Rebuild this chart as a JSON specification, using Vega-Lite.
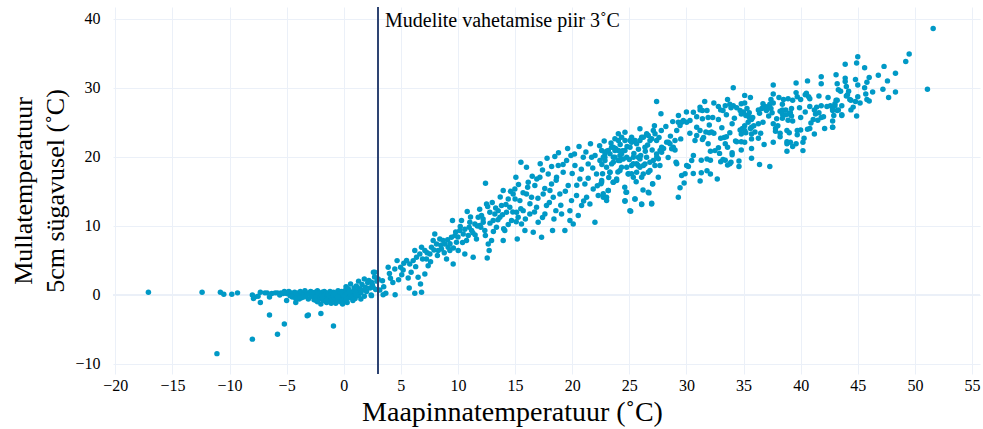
{
  "$schema": "https://vega.github.io/schema/vega-lite/v6.json",
  "width": 867,
  "height": 367,
  "autosize": "none",
  "padding": {"left": 113, "top": 7, "right": 3, "bottom": 55},
  "background": "white",
  "config": {
    "view": {"stroke": null},
    "font": "Liberation Serif",
    "style": {
      "guide-label": {"font": "Liberation Serif", "fontSize": 16, "fill": "#000000"},
      "guide-title": {"font": "Liberation Serif", "fontWeight": "normal", "fill": "#000000"}
    },
    "axis": {
      "domain": false,
      "ticks": false,
      "grid": true,
      "gridColor": "#EBF0F8",
      "gridWidth": 1,
      "labelFont": "Liberation Serif",
      "labelFontSize": 16,
      "labelColor": "#000000",
      "labelFlush": false,
      "titleFont": "Liberation Serif",
      "titleFontWeight": "normal",
      "titleColor": "#000000"
    }
  },
  "data": {"values": [
    {"x":-17.1,"y":0.4},{"x":-12.4,"y":0.4},{"x":-10.8,"y":0.4},{"x":-10.5,"y":0.1},{"x":-9.8,"y":0.1},{"x":-9.3,"y":0.3},{"x":-8.0,"y":0.0},{"x":-7.8,"y":-0.3},{"x":-7.5,"y":-0.2},{"x":-7.3,"y":0.4},{"x":-6.9,"y":0.3},{"x":-7.3,"y":-1.1},{"x":-6.5,"y":-0.3},{"x":-6.3,"y":0.2},{"x":-6.0,"y":0.3},{"x":-5.8,"y":0.3},{"x":-5.5,"y":0.3},{"x":-5.2,"y":0.5},{"x":-6.5,"y":-2.9},{"x":-5.8,"y":-5.7},{"x":-5.2,"y":-4.2},{"x":-8.0,"y":-6.4},{"x":-11.1,"y":-8.5},{"x":-5.0,"y":-0.8},{"x":-4.7,"y":-0.1},{"x":-4.4,"y":0.1},{"x":-4.1,"y":-0.3},{"x":-3.9,"y":0.0},{"x":-3.6,"y":-0.2},{"x":-4.2,"y":-1.1},{"x":-3.2,"y":-3.0},{"x":-3.1,"y":-2.9},{"x":-2.0,"y":-2.7},{"x":-0.9,"y":-4.5},
    {"x":-7.9,"y":-0.5},{"x":-6.7,"y":0.3},{"x":-5.6,"y":0.0},{"x":-5.3,"y":0.2},{"x":-4.9,"y":0.4},
    {"x":-5.0,"y":0.2},{"x":-4.8,"y":0.5},{"x":-4.6,"y":0.3},{"x":-4.5,"y":-0.3},{"x":-4.3,"y":0.4},{"x":-4.2,"y":-0.5},{"x":-4.0,"y":0.3},{"x":-3.8,"y":0.5},{"x":-3.7,"y":-0.4},{"x":-3.5,"y":0.2},{"x":-3.4,"y":0.6},{"x":-3.3,"y":-0.1},{"x":-3.2,"y":0.3},{"x":-3.1,"y":-0.6},{"x":-3.0,"y":0.1},{"x":-2.9,"y":0.5},{"x":-2.8,"y":-0.2},{"x":-2.7,"y":0.3},{"x":-2.6,"y":-0.7},{"x":-2.5,"y":0.0},{"x":-2.5,"y":0.4},{"x":-2.4,"y":-0.3},{"x":-2.3,"y":0.6},{"x":-2.3,"y":-1.0},{"x":-2.2,"y":0.2},{"x":-2.1,"y":-0.5},{"x":-2.0,"y":0.1},{"x":-2.0,"y":-1.3},{"x":-1.9,"y":0.4},{"x":-1.8,"y":-0.2},{"x":-1.8,"y":-0.8},{"x":-1.7,"y":0.5},{"x":-1.6,"y":0.0},{"x":-1.6,"y":-0.4},{"x":-1.5,"y":-1.1},{"x":-1.5,"y":0.3},{"x":-1.4,"y":-0.6},{"x":-1.3,"y":0.1},{"x":-1.3,"y":-0.2},{"x":-1.2,"y":0.5},{"x":-1.2,"y":-0.9},{"x":-1.1,"y":-0.3},{"x":-1.0,"y":0.2},{"x":-1.0,"y":-0.7},{"x":-0.9,"y":0.4},{"x":-0.9,"y":-0.1},{"x":-0.8,"y":-0.5},{"x":-0.7,"y":0.0},{"x":-0.7,"y":-1.2},{"x":-0.6,"y":0.3},{"x":-0.6,"y":-0.4},{"x":-0.5,"y":0.6},{"x":-0.5,"y":-0.8},{"x":-0.4,"y":-0.2},{"x":-0.4,"y":0.1},{"x":-0.3,"y":-1.0},{"x":-0.3,"y":0.4},{"x":-0.2,"y":-0.3},{"x":-0.2,"y":-0.6},{"x":-0.1,"y":0.2},{"x":-0.1,"y":-1.3},{"x":0.0,"y":-0.5},{"x":0.0,"y":0.0},{"x":0.1,"y":0.6},{"x":0.1,"y":-0.9},{"x":0.2,"y":1.2},{"x":0.2,"y":-0.2},{"x":0.3,"y":0.3},{"x":0.3,"y":-1.1},{"x":0.4,"y":0.9},{"x":0.5,"y":-0.4},{"x":0.6,"y":0.1},{"x":0.6,"y":1.6},{"x":0.7,"y":-0.2},{"x":0.8,"y":0.5},{"x":0.9,"y":1.0},{"x":1.0,"y":0.2},{"x":1.0,"y":-0.5},{"x":1.1,"y":1.3},{"x":1.2,"y":0.6},{"x":1.3,"y":2.0},{"x":1.3,"y":-0.1},{"x":1.4,"y":0.9},{"x":1.5,"y":0.3},{"x":1.6,"y":1.5},{"x":1.7,"y":0.7},{"x":1.8,"y":2.3},{"x":1.8,"y":-0.2},{"x":1.9,"y":1.1},{"x":2.0,"y":0.5},{"x":2.1,"y":1.8},{"x":2.2,"y":2.1},{"x":2.3,"y":1.0},{"x":2.4,"y":0.0},{"x":2.5,"y":1.5},{"x":2.6,"y":3.3},{"x":2.7,"y":2.6},{"x":2.8,"y":0.8},{"x":2.9,"y":2.0},
    {"x":-4.6,"y":-0.1},{"x":-3.9,"y":-0.6},{"x":-3.5,"y":-0.3},{"x":-2.8,"y":0.4},{"x":-2.4,"y":-0.8},{"x":-1.9,"y":-0.4},{"x":-1.4,"y":0.2},{"x":-1.1,"y":-1.2},{"x":-0.8,"y":0.3},{"x":-0.5,"y":-0.3},{"x":-0.2,"y":0.5},{"x":0.2,"y":-0.7},{"x":0.5,"y":0.4},{"x":0.8,"y":-0.8},{"x":1.1,"y":0.0},{"x":1.5,"y":-0.6},
    {"x":2.72,"y":3.28},{"x":2.43,"y":1.83},{"x":2.57,"y":1.10},{"x":3.01,"y":2.31},{"x":3.39,"y":2.07},{"x":3.16,"y":0.72},{"x":3.45,"y":0.04},{"x":2.43,"y":-0.10},{"x":3.68,"y":0.23},{"x":3.89,"y":4.00},{"x":4.09,"y":2.41},{"x":4.47,"y":3.76},{"x":4.50,"y":0.04},{"x":4.67,"y":4.97},{"x":4.98,"y":4.00},{"x":5.08,"y":2.94},{"x":5.26,"y":4.58},{"x":5.64,"y":2.46},{"x":5.73,"y":1.01},{"x":6.22,"y":0.23},{"x":6.51,"y":2.55},{"x":6.72,"y":1.59},{"x":6.81,"y":0.38},{"x":7.10,"y":3.04},{"x":5.78,"y":4.49},{"x":6.08,"y":4.97},{"x":6.22,"y":6.42},{"x":6.37,"y":5.45},{"x":6.66,"y":5.93},{"x":6.81,"y":6.90},{"x":7.10,"y":6.42},{"x":7.24,"y":5.21},{"x":7.39,"y":4.24},{"x":7.54,"y":5.93},{"x":7.68,"y":6.90},{"x":7.83,"y":7.87},{"x":7.97,"y":8.83},{"x":8.12,"y":7.38},{"x":8.27,"y":6.42},{"x":8.41,"y":8.11},{"x":8.56,"y":6.66},{"x":8.70,"y":7.87},{"x":8.85,"y":7.38},{"x":9.00,"y":5.21},{"x":9.14,"y":6.90},{"x":9.29,"y":6.42},{"x":9.43,"y":8.35},{"x":9.52,"y":10.77},{"x":9.58,"y":4.48},{"x":9.73,"y":8.59},{"x":9.87,"y":7.63},{"x":10.02,"y":6.42},{"x":10.16,"y":9.32},{"x":10.31,"y":10.77},{"x":10.46,"y":8.83},{"x":10.60,"y":5.93},{"x":10.75,"y":7.87},{"x":10.81,"y":12.07},{"x":10.98,"y":9.80},{"x":11.04,"y":10.52},{"x":11.19,"y":9.32},{"x":11.33,"y":5.45},{"x":11.48,"y":10.28},{"x":11.62,"y":8.11},{"x":11.77,"y":11.25},{"x":11.92,"y":10.04},{"x":12.06,"y":11.49},{"x":12.21,"y":10.52},{"x":12.35,"y":9.32},{"x":12.41,"y":16.18},{"x":12.50,"y":13.18},{"x":12.56,"y":5.36},{"x":12.65,"y":7.38},{"x":12.73,"y":6.42},{"x":12.79,"y":11.97},{"x":12.94,"y":7.87},{"x":13.08,"y":10.77},{"x":13.23,"y":11.73},{"x":13.37,"y":9.80},{"x":13.52,"y":12.21},{"x":13.67,"y":11.25},{"x":13.81,"y":12.94},{"x":13.96,"y":15.11},{"x":13.96,"y":7.87},{"x":14.10,"y":9.32},{"x":14.25,"y":11.97},{"x":14.40,"y":13.91},{"x":14.54,"y":12.70},{"x":14.69,"y":10.77},{"x":14.83,"y":14.63},{"x":14.98,"y":15.35},{"x":15.07,"y":17.05},{"x":15.13,"y":11.97},{"x":15.19,"y":8.11},{"x":15.27,"y":11.25},{"x":15.42,"y":13.66},{"x":15.51,"y":19.22},{"x":15.56,"y":10.28},{"x":15.71,"y":12.21},{"x":15.86,"y":9.32},{"x":16.00,"y":14.63},{"x":16.00,"y":18.50},{"x":16.15,"y":16.32},{"x":16.29,"y":11.73},{"x":16.44,"y":14.15},{"x":16.59,"y":9.07},{"x":16.73,"y":15.84},{"x":16.88,"y":12.70},{"x":17.02,"y":10.52},{"x":17.17,"y":17.05},{"x":17.32,"y":8.35},{"x":17.40,"y":18.11},{"x":17.46,"y":14.63},{"x":17.61,"y":11.73},{"x":17.75,"y":12.94},{"x":17.90,"y":17.53},{"x":18.05,"y":15.11},{"x":18.19,"y":16.08},{"x":18.28,"y":9.32},{"x":18.34,"y":14.15},{"x":18.48,"y":20.04},{"x":18.57,"y":12.21},{"x":18.63,"y":17.05},{"x":18.78,"y":18.74},{"x":18.92,"y":14.63},{"x":19.07,"y":11.73},{"x":19.21,"y":17.77},{"x":19.36,"y":9.32},{"x":19.51,"y":19.46},{"x":19.65,"y":15.84},{"x":19.80,"y":10.77},{"x":19.89,"y":20.18},{"x":19.94,"y":13.66},{"x":20.09,"y":10.28},{"x":20.24,"y":18.74},{"x":20.38,"y":14.39},{"x":20.53,"y":11.49},{"x":20.67,"y":16.80},{"x":20.82,"y":12.94},{"x":20.97,"y":19.94},{"x":21.11,"y":16.08},{"x":21.26,"y":14.15},{"x":21.40,"y":18.98},{"x":21.55,"y":13.18},{"x":21.70,"y":19.94},{"x":21.84,"y":15.35},{"x":21.99,"y":10.52},{"x":22.13,"y":17.53},{"x":22.28,"y":14.39},{"x":22.43,"y":19.46},{"x":22.57,"y":16.32},{"x":22.72,"y":14.15},{"x":22.86,"y":19.94},{"x":23.01,"y":13.66},{"x":23.16,"y":15.11},{"x":23.30,"y":17.77},{"x":23.45,"y":18.98},{"x":23.59,"y":16.32},{"x":23.74,"y":19.94},{"x":23.89,"y":16.56},{"x":24.03,"y":19.46},{"x":24.18,"y":20.18},{"x":24.32,"y":18.50},{"x":24.47,"y":19.70},{"x":24.62,"y":13.66},{"x":24.76,"y":14.87},{"x":24.91,"y":17.53},{"x":25.05,"y":12.21},{"x":25.20,"y":18.74},{"x":25.35,"y":19.94},{"x":25.49,"y":13.91},{"x":25.64,"y":17.77},{"x":25.78,"y":18.74},{"x":25.93,"y":19.70},{"x":26.08,"y":13.18},{"x":26.22,"y":17.53},{"x":26.37,"y":18.98},{"x":26.51,"y":19.94},{"x":26.66,"y":14.87},{"x":26.81,"y":18.01},{"x":26.95,"y":13.18},{"x":27.04,"y":16.08},{"x":27.10,"y":19.46},{"x":27.24,"y":18.74},{"x":27.39,"y":20.43},{"x":27.54,"y":17.05},{"x":27.68,"y":18.74},{"x":27.83,"y":20.67},
    {"x":30.90,"y":24.30},{"x":30.61,"y":26.47},{"x":30.31,"y":25.27},{"x":30.02,"y":25.02},{"x":29.73,"y":25.27},{"x":29.58,"y":25.02},{"x":29.44,"y":24.54},{"x":29.29,"y":25.02},{"x":29.15,"y":23.82},{"x":31.19,"y":27.20},{"x":31.19,"y":23.82},{"x":30.90,"y":23.09},{"x":30.75,"y":22.37},{"x":30.61,"y":20.19},{"x":30.46,"y":19.47},{"x":30.17,"y":18.60},{"x":30.02,"y":18.74},{"x":29.88,"y":17.54},{"x":29.58,"y":17.30},{"x":29.44,"y":15.51},{"x":29.29,"y":14.15},{"x":29.15,"y":18.99},{"x":29.09,"y":19.23},{"x":29.00,"y":22.37},{"x":28.85,"y":21.40},{"x":28.71,"y":21.16},{"x":28.56,"y":21.88},{"x":28.42,"y":22.13},{"x":28.27,"y":22.13},{"x":27.83,"y":21.40},{"x":27.69,"y":20.92},{"x":27.54,"y":19.71},{"x":27.39,"y":22.37},{"x":27.25,"y":23.33},{"x":27.10,"y":23.82},{"x":26.96,"y":22.61},{"x":26.81,"y":22.37},{"x":26.66,"y":23.09},{"x":26.52,"y":23.33},{"x":26.37,"y":21.40},{"x":26.23,"y":22.85},{"x":26.08,"y":22.85},{"x":25.93,"y":24.06},{"x":25.79,"y":19.95},{"x":26.23,"y":18.74},{"x":25.93,"y":18.50},{"x":25.64,"y":18.99},{"x":25.35,"y":18.99},{"x":25.20,"y":17.54},{"x":26.08,"y":17.05},{"x":26.66,"y":17.78},{"x":27.04,"y":16.09},{"x":26.96,"y":13.29},{"x":26.72,"y":14.78},{"x":26.08,"y":13.09},{"x":25.50,"y":13.91},{"x":25.12,"y":12.13},{"x":24.71,"y":14.88},{"x":24.62,"y":13.58},{"x":25.35,"y":17.05},{"x":24.91,"y":17.54},{"x":24.18,"y":18.02},{"x":23.89,"y":16.81},{"x":23.60,"y":16.33},{"x":23.31,"y":17.78},{"x":23.01,"y":14.15},{"x":23.16,"y":15.12},{"x":22.72,"y":14.64},{"x":22.58,"y":16.57},{"x":22.52,"y":16.09},{"x":22.66,"y":17.54},{"x":22.87,"y":19.47},{"x":23.31,"y":20.43},{"x":23.60,"y":21.40},{"x":24.04,"y":20.92},{"x":24.33,"y":20.43},{"x":24.62,"y":20.92},{"x":24.77,"y":19.95},{"x":25.06,"y":21.40},{"x":25.50,"y":22.37},{"x":25.64,"y":21.88},{"x":25.93,"y":22.37},{"x":24.62,"y":22.37},{"x":24.33,"y":22.85},{"x":24.04,"y":23.33},{"x":23.74,"y":22.61},{"x":23.45,"y":21.40},{"x":23.16,"y":20.92},{"x":22.87,"y":20.43},{"x":22.58,"y":20.92},{"x":25.06,"y":22.37},{"x":25.20,"y":22.85},{"x":24.62,"y":23.57},{"x":24.04,"y":22.37},{"x":23.74,"y":20.92},{"x":23.60,"y":19.95},{"x":24.18,"y":19.47},{"x":24.77,"y":18.50},{"x":23.01,"y":18.50},{"x":22.72,"y":19.95},{"x":27.39,"y":28.02},{"x":27.77,"y":26.23},
    {"x":41.8,"y":31.6},{"x":41.8,"y":30.6},{"x":40.6,"y":31.0},{"x":39.6,"y":30.7},{"x":37.6,"y":30.4},{"x":34.1,"y":30.0},{"x":40.5,"y":29.2},{"x":40.7,"y":28.7},{"x":40.4,"y":29.0},{"x":39.7,"y":28.7},{"x":39.3,"y":28.2},{"x":40.0,"y":28.3},{"x":38.9,"y":28.4},{"x":38.5,"y":28.3},{"x":38.1,"y":28.6},{"x":37.4,"y":28.3},{"x":37.3,"y":27.6},{"x":37.6,"y":27.8},{"x":35.1,"y":28.9},{"x":35.1,"y":27.8},{"x":34.8,"y":27.7},{"x":43.3,"y":29.7},{"x":43.5,"y":29.5},{"x":44.1,"y":29.0},{"x":44.3,"y":28.3},{"x":43.1,"y":28.2},{"x":43.0,"y":27.7},{"x":42.6,"y":27.4},{"x":42.3,"y":27.3},{"x":41.8,"y":27.4},{"x":41.4,"y":27.2},{"x":41.2,"y":26.8},{"x":40.8,"y":27.3},{"x":42.8,"y":26.7},{"x":43.2,"y":26.7},{"x":43.6,"y":26.1},{"x":41.6,"y":26.4},{"x":41.3,"y":26.2},{"x":41.8,"y":25.7},{"x":41.5,"y":25.3},{"x":41.1,"y":25.4},{"x":40.9,"y":24.9},{"x":40.8,"y":24.1},{"x":40.6,"y":24.0},{"x":42.1,"y":24.1},{"x":42.8,"y":24.3},{"x":39.9,"y":27.1},{"x":39.2,"y":27.0},{"x":39.1,"y":26.4},{"x":38.7,"y":26.8},{"x":38.4,"y":26.8},{"x":38.2,"y":26.6},{"x":38.4,"y":26.2},{"x":39.0,"y":26.2},{"x":38.7,"y":26.1},{"x":38.9,"y":25.3},{"x":39.3,"y":25.2},{"x":40.0,"y":25.7},{"x":37.9,"y":25.5},{"x":38.4,"y":25.6},{"x":37.6,"y":24.8},{"x":37.8,"y":24.1},{"x":37.8,"y":23.7},{"x":38.2,"y":23.4},{"x":38.2,"y":22.9},{"x":38.8,"y":23.8},{"x":39.0,"y":23.5},{"x":39.7,"y":23.8},{"x":39.7,"y":23.2},{"x":39.6,"y":21.9},{"x":39.3,"y":21.5},{"x":38.8,"y":22.2},{"x":39.1,"y":22.1},{"x":38.8,"y":20.8},{"x":40.3,"y":22.7},{"x":40.2,"y":22.1},{"x":40.2,"y":20.9},{"x":37.6,"y":22.1},{"x":37.5,"y":26.4},{"x":37.4,"y":27.0},{"x":37.2,"y":27.2},{"x":37.0,"y":26.7},{"x":36.9,"y":27.3},{"x":36.6,"y":27.0},{"x":36.3,"y":26.8},{"x":36.7,"y":27.7},{"x":36.7,"y":25.0},{"x":36.3,"y":24.8},{"x":36.5,"y":23.4},{"x":36.3,"y":22.7},{"x":35.9,"y":24.5},{"x":35.7,"y":24.3},{"x":35.7,"y":25.4},{"x":35.8,"y":25.7},{"x":35.5,"y":25.7},{"x":35.4,"y":25.0},{"x":35.3,"y":27.0},{"x":35.0,"y":26.5},{"x":35.5,"y":26.4},{"x":34.7,"y":26.7},{"x":34.8,"y":26.2},{"x":35.6,"y":24.1},{"x":35.7,"y":23.3},{"x":35.1,"y":24.5},{"x":34.9,"y":24.1},{"x":34.7,"y":23.9},{"x":35.1,"y":23.8},{"x":35.2,"y":23.5},{"x":34.8,"y":23.3},{"x":35.7,"y":22.6},{"x":34.8,"y":22.2},{"x":34.4,"y":22.2},{"x":35.1,"y":22.1},{"x":34.3,"y":22.3},{"x":35.7,"y":21.2},{"x":35.7,"y":19.8},{"x":36.4,"y":18.9},{"x":37.3,"y":18.6},{"x":34.6,"y":19.4},{"x":34.6,"y":18.6},{"x":34.0,"y":20.6},{"x":34.0,"y":20.3},{"x":33.9,"y":19.2},{"x":33.8,"y":19.0},{"x":33.6,"y":18.8},{"x":33.4,"y":19.5},{"x":33.0,"y":19.3},{"x":33.2,"y":19.6},{"x":32.9,"y":20.5},{"x":32.5,"y":20.9},{"x":32.8,"y":21.3},{"x":33.6,"y":21.4},{"x":33.5,"y":22.9},{"x":33.3,"y":22.8},{"x":33.0,"y":22.7},{"x":33.4,"y":21.9},{"x":33.8,"y":23.5},{"x":32.4,"y":23.4},{"x":32.2,"y":23.6},{"x":32.0,"y":23.5},{"x":31.7,"y":23.6},{"x":31.5,"y":22.8},{"x":31.4,"y":22.5},{"x":31.9,"y":21.9},{"x":32.1,"y":20.8},{"x":31.8,"y":19.7},{"x":32.1,"y":19.5},{"x":31.3,"y":19.5},{"x":31.3,"y":17.7},{"x":31.8,"y":18.0},{"x":32.1,"y":17.5},{"x":31.2,"y":16.5},{"x":34.1,"y":27.4},{"x":33.9,"y":27.1},{"x":33.8,"y":27.6},{"x":33.4,"y":27.4},{"x":32.8,"y":27.3},{"x":33.0,"y":26.8},{"x":33.2,"y":26.7},{"x":33.5,"y":26.1},{"x":34.2,"y":25.6},{"x":32.8,"y":25.4},{"x":32.3,"y":25.7},{"x":31.9,"y":25.7},{"x":31.8,"y":26.7},{"x":31.4,"y":26.7},{"x":31.2,"y":26.8},{"x":31.4,"y":25.5},
    {"x":51.6,"y":38.6},{"x":49.5,"y":34.9},{"x":49.2,"y":33.8},{"x":51.1,"y":29.8},{"x":48.3,"y":32.1},{"x":47.3,"y":33.1},{"x":47.6,"y":31.0},{"x":48.3,"y":29.4},{"x":47.7,"y":28.6},{"x":45.0,"y":34.5},{"x":44.9,"y":33.6},{"x":45.6,"y":32.9},{"x":43.9,"y":33.4},{"x":43.1,"y":31.9},{"x":43.9,"y":31.4},{"x":43.9,"y":30.9},{"x":46.0,"y":31.5},{"x":45.8,"y":30.8},{"x":45.0,"y":30.4},{"x":44.2,"y":29.5},{"x":44.0,"y":28.8},{"x":45.0,"y":28.7},{"x":45.7,"y":29.1},{"x":45.8,"y":28.3},{"x":46.0,"y":28.1},{"x":44.4,"y":28.2},{"x":44.8,"y":28.0},{"x":43.2,"y":28.2},{"x":43.0,"y":27.4},{"x":44.6,"y":27.2},{"x":42.8,"y":26.9},{"x":43.3,"y":26.8},{"x":43.6,"y":26.0},{"x":42.9,"y":26.0},{"x":44.9,"y":25.9},{"x":42.8,"y":24.3},
    {"x":3.5,"y":1.2},{"x":4.0,"y":3.1},{"x":4.3,"y":1.8},{"x":4.8,"y":2.2},{"x":5.2,"y":3.6},{"x":5.5,"y":5.0},{"x":5.9,"y":3.3},{"x":6.3,"y":4.1},{"x":6.9,"y":5.2},{"x":7.3,"y":6.1},{"x":7.6,"y":4.8},{"x":7.9,"y":6.5},{"x":8.2,"y":5.7},{"x":8.5,"y":7.2},{"x":8.8,"y":6.1},{"x":9.1,"y":8.0},{"x":9.3,"y":7.4},{"x":9.6,"y":6.8},{"x":9.8,"y":9.1},{"x":10.0,"y":8.4},
    {"x":10.2,"y":9.9},{"x":10.4,"y":7.6},{"x":10.6,"y":9.5},{"x":10.9,"y":8.6},{"x":11.1,"y":11.3},{"x":11.3,"y":9.0},{"x":11.5,"y":8.7},{"x":11.7,"y":10.0},{"x":11.9,"y":12.4},{"x":12.0,"y":9.8},{"x":12.2,"y":11.0},{"x":12.4,"y":8.6},{"x":12.6,"y":12.8},{"x":12.8,"y":10.4},{"x":13.0,"y":13.4},{"x":13.1,"y":9.2},{"x":13.3,"y":12.6},{"x":13.5,"y":10.9},{"x":13.7,"y":14.2},{"x":13.9,"y":11.6},{"x":14.0,"y":9.6},{"x":14.2,"y":13.1},{"x":14.4,"y":10.2},{"x":14.6,"y":15.0},{"x":14.8,"y":12.0},{"x":15.0,"y":13.9},{"x":15.1,"y":10.6},{"x":15.3,"y":16.0},{"x":15.5,"y":12.5},{"x":15.7,"y":14.8},{"x":15.9,"y":11.0},{"x":16.1,"y":15.6},{"x":16.3,"y":13.2},{"x":16.5,"y":17.2},{"x":16.7,"y":12.0},{"x":16.9,"y":16.8},{"x":17.0,"y":14.0},{"x":17.2,"y":19.0},{"x":17.4,"y":11.2},
    {"x":17.6,"y":15.4},{"x":17.8,"y":19.8},{"x":18.0,"y":13.4},{"x":18.2,"y":18.6},{"x":18.4,"y":11.0},{"x":18.6,"y":16.6},{"x":18.8,"y":20.6},{"x":19.0,"y":13.0},{"x":19.2,"y":18.9},{"x":19.4,"y":15.0},{"x":19.6,"y":21.2},{"x":19.8,"y":12.2},{"x":20.0,"y":17.6},{"x":20.2,"y":20.4},{"x":20.4,"y":15.9},{"x":20.6,"y":21.5},{"x":20.8,"y":18.2},{"x":21.0,"y":13.6},{"x":21.2,"y":20.7},{"x":21.4,"y":16.9},{"x":21.6,"y":21.9},{"x":21.8,"y":18.4},{"x":22.0,"y":20.2},{"x":22.2,"y":15.8},{"x":22.4,"y":21.6},{"x":22.6,"y":18.9},{"x":22.8,"y":22.3},{"x":23.0,"y":20.8},{"x":23.2,"y":17.0},{"x":23.4,"y":22.0},{"x":23.6,"y":19.2},{"x":23.8,"y":21.2},{"x":24.0,"y":17.8},{"x":24.2,"y":21.8},{"x":24.4,"y":20.9},{"x":24.6,"y":15.6},{"x":24.8,"y":21.5},{"x":25.0,"y":19.6},{"x":25.2,"y":22.1},{"x":25.4,"y":20.5},{"x":25.6,"y":16.4},{"x":25.8,"y":21.1},{"x":26.0,"y":20.2},{"x":26.2,"y":15.2},{"x":26.4,"y":20.8},{"x":26.6,"y":21.7},{"x":26.8,"y":19.2},{"x":27.0,"y":21.0},{"x":27.2,"y":24.5},{"x":27.4,"y":20.0},{"x":27.6,"y":22.8},{"x":27.8,"y":23.8},{"x":28.0,"y":21.2},{"x":28.2,"y":24.4},{"x":28.4,"y":19.9},{"x":28.6,"y":23.0},{"x":28.8,"y":25.1},{"x":29.0,"y":21.0},{"x":29.3,"y":26.0},{"x":29.5,"y":22.6},{"x":29.8,"y":16.2},{"x":30.0,"y":26.5},{"x":30.3,"y":23.4},{"x":30.6,"y":17.6},{"x":30.9,"y":25.8},
    {"x":31.6,"y":28.0},{"x":32.0,"y":24.6},{"x":32.4,"y":27.8},{"x":32.7,"y":16.8},{"x":33.1,"y":24.2},{"x":33.6,"y":28.3},{"x":34.0,"y":24.8},{"x":34.4,"y":27.1},{"x":34.8,"y":21.0},{"x":35.2,"y":26.0},{"x":35.6,"y":28.6},{"x":36.0,"y":23.6},{"x":36.4,"y":26.3},{"x":36.8,"y":21.8},{"x":37.2,"y":25.9},{"x":37.6,"y":29.1},{"x":38.0,"y":24.5},{"x":38.4,"y":27.6},{"x":38.8,"y":21.9},{"x":39.2,"y":25.9},{"x":39.6,"y":29.3},{"x":40.0,"y":23.9},{"x":40.4,"y":26.5},{"x":40.8,"y":28.4},{"x":41.2,"y":23.3},{"x":41.6,"y":28.8},{"x":42.0,"y":25.8},{"x":42.4,"y":28.6},{"x":42.8,"y":25.2},{"x":43.2,"y":30.6},{"x":43.6,"y":27.4},{"x":44.0,"y":30.2},{"x":44.4,"y":26.8},{"x":44.8,"y":31.2},{"x":45.2,"y":27.8},{"x":45.6,"y":30.0},{"x":46.3,"y":29.4},{"x":46.8,"y":31.8},{"x":47.2,"y":29.8}
  ]},
  "layer": [
    {
      "mark": {"type": "rule", "color": "#EBF0F8", "strokeWidth": 2},
      "encoding": {"y": {"datum": 0, "type": "quantitative"}}
    },
    {
      "mark": {"type": "circle", "size": 30, "color": "#0099C6", "opacity": 1},
      "encoding": {
        "x": {
          "field": "x",
          "type": "quantitative",
          "scale": {"domain": [-20.2, 55.7], "nice": false, "zero": false},
          "axis": {
            "title": "Maapinnatemperatuur (˚C)",
            "values": [-20, -15, -10, -5, 0, 5, 10, 15, 20, 25, 30, 35, 40, 45, 50, 55],
            "labelFont": "Liberation Serif",
            "labelPadding": 3,
            "titleFontSize": 28,
            "titleX": 399,
            "titlePadding": 5
          }
        },
        "y": {
          "field": "y",
          "type": "quantitative",
          "scale": {"domain": [-11.45, 41.7], "nice": false, "zero": false},
          "axis": {
            "title": ["Mullatemperatuur", "5cm sügavusel (˚C)"],
            "values": [-10, 0, 10, 20, 30, 40],
            "labelFont": "Liberation Serif",
            "labelPadding": 13,
            "titleFontSize": 26,
            "titlePadding": 6,
            "titleLineHeight": 32
          }
        }
      }
    },
    {
      "mark": {"type": "rule", "color": "#2f4573", "strokeWidth": 1.7},
      "encoding": {"x": {"datum": 3, "type": "quantitative"}}
    },
    {
      "data": {"values": [{"x": 3, "y": 41.7, "label": "Mudelite vahetamise piir 3˚C"}]},
      "mark": {"type": "text", "align": "left", "baseline": "top", "dx": 7, "dy": 4, "fontSize": 20, "font": "Liberation Serif", "color": "#000000"},
      "encoding": {
        "x": {"field": "x", "type": "quantitative"},
        "y": {"field": "y", "type": "quantitative"},
        "text": {"field": "label"}
      }
    }
  ]
}
